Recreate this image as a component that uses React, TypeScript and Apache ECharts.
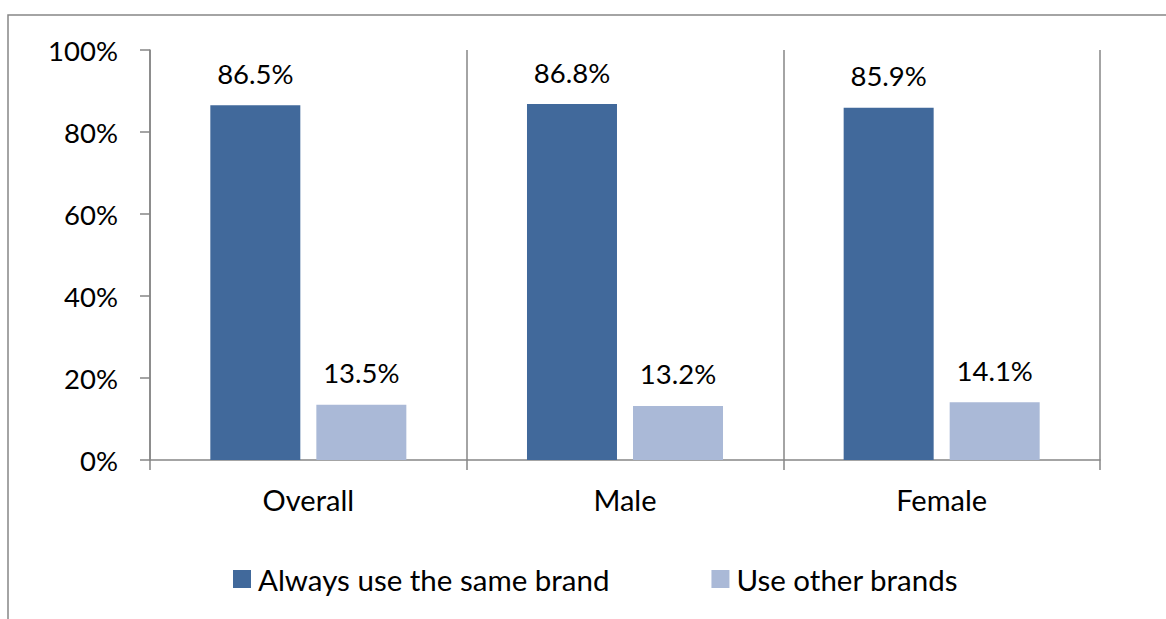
import React, { useEffect, useRef } from "react";
import * as echarts from "echarts";

const categories = ["Overall", "Male", "Female"];
const seriesNames = ["Always use the same brand", "Use other brands"];
const sameBrand = [86.5, 86.8, 85.9];
const otherBrands = [13.5, 13.2, 14.1];
const yTicks = [0, 20, 40, 60, 80, 100];

const FONT = "Lato";
const AXIS = "#868686";

export default function App() {
  const ref = useRef<HTMLDivElement>(null);
  useEffect(() => {
    if (!ref.current) return;
    const chart = echarts.init(ref.current, undefined, { renderer: "svg" });
    const label = {
      show: true,
      position: "top" as const,
      distance: 18,
      color: "#000",
      fontFamily: FONT,
      fontSize: 27.5,
      formatter: (p: any) => p.value.toFixed(1) + "%",
    };
    chart.setOption({
      animation: false,
      backgroundColor: "#fff",
      textStyle: { fontFamily: FONT },
      graphic: [
        {
          type: "rect",
          shape: { x: 8, y: 15, width: 1200, height: 700 },
          style: { fill: "none", stroke: AXIS, lineWidth: 1.5 },
          silent: true,
        },
      ],
      grid: { left: 150, top: 50, width: 950, height: 410, containLabel: false },
      legend: {
        left: 228,
        top: 559,
        itemWidth: 18,
        itemHeight: 18,
        itemGap: 102,
        icon: "rect",
        textStyle: { fontFamily: FONT, fontSize: 29.5, color: "#000", padding: [0, 0, 0, 2] },
        data: seriesNames,
      },
      xAxis: {
        type: "category",
        data: categories,
        boundaryGap: true,
        axisLine: { show: true, lineStyle: { color: AXIS, width: 1.5 } },
        axisTick: { show: true, length: 10, lineStyle: { color: AXIS, width: 1.5 } },
        splitLine: { show: true, lineStyle: { color: AXIS, width: 1.5 } },
        axisLabel: { color: "#000", fontFamily: FONT, fontSize: 29, margin: 25 },
      },
      yAxis: {
        type: "value",
        min: yTicks[0],
        max: yTicks[yTicks.length - 1],
        interval: 20,
        axisLine: { show: true, lineStyle: { color: AXIS, width: 1.5 } },
        axisTick: { show: true, length: 10, lineStyle: { color: AXIS, width: 1.5 } },
        splitLine: { show: false },
        axisLabel: {
          color: "#000",
          fontFamily: FONT,
          fontSize: 27.5,
          margin: 32,
          formatter: (v: number) => v + "%",
        },
      },
      series: [
        {
          name: seriesNames[0],
          type: "bar",
          data: sameBrand,
          barWidth: 90,
          barGap: "17.8%",
          itemStyle: { color: "#41699B" },
          label,
        },
        {
          name: seriesNames[1],
          type: "bar",
          data: otherBrands,
          barWidth: 90,
          barGap: "17.8%",
          itemStyle: { color: "#AAB9D7" },
          label,
        },
      ],
    });
    return () => chart.dispose();
  }, []);
  return (
    <div
      ref={ref}
      style={{ position: "fixed", left: 0, top: 0, width: 1166, height: 619 }}
    />
  );
}
